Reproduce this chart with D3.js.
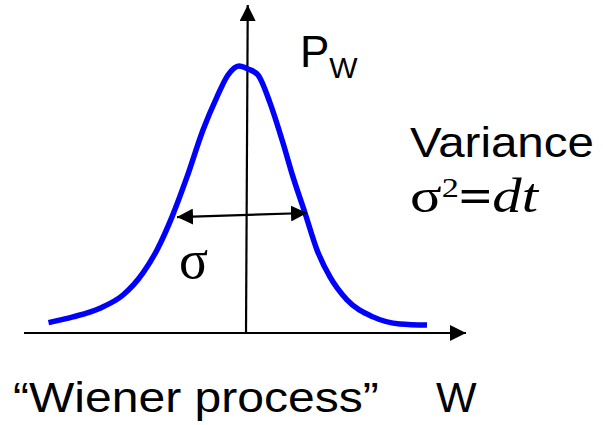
<!DOCTYPE html>
<html>
<head>
<meta charset="utf-8">
<script src="https://cdn.jsdelivr.net/npm/d3@7"></script>
<style>
  body { margin: 0; background: #fff; }
  text { fill: #000; }
</style>
</head>
<body>
<div id="chart"></div>
<script>
// curve data (W, P)
var curveW = [-3.95, -3.46, -2.92, -2.46, -2.06, -1.78, -1.48, -1.18, -0.86, -0.58, -0.36, -0.14,
  0.04, 0.24, 0.48, 0.74, 0.94, 1.18, 1.42, 1.68, 2.02, 2.54, 3.08, 3.62];
var curveP = [0.038, 0.059, 0.091, 0.139, 0.220, 0.304, 0.425, 0.571, 0.743, 0.864, 0.944, 0.977,
  0.966, 0.944, 0.842, 0.695, 0.571, 0.439, 0.304, 0.205, 0.121, 0.059, 0.033, 0.029];

// axis extents and the sigma width arrow
var wExtent = [-4.44, 4.4];
var pExtent = [0, 1.2];
var sigmaFrom = [-1.38, 0.424];
var sigmaTo = [1.22, 0.439];

var chart_width = 603;
var chart_height = 425;

var dataset = curveW.map(function(w, i) {
  return { w: w, p: curveP[i] };
});

// scales
var x_scale = d3.scaleLinear()
  .domain(wExtent)
  .range([24, 466]);

var y_scale = d3.scaleLinear()
  .domain(pExtent)
  .range([333, 5]);

var svg = d3.select('#chart')
  .append('svg')
  .attr('width', chart_width)
  .attr('height', chart_height);

// arrow marker
var defs = svg.append('defs');
defs.append('marker')
  .attr('id', 'head')
  .attr('viewBox', '0 0 16 16')
  .attr('refX', 16)
  .attr('refY', 8)
  .attr('markerWidth', 16)
  .attr('markerHeight', 16)
  .attr('markerUnits', 'userSpaceOnUse')
  .attr('orient', 'auto-start-reverse')
  .append('path')
  .attr('d', 'M0,0 L16,8 L0,16 Z')
  .attr('fill', '#000');

// axes
svg.append('line')
  .attr('x1', x_scale(wExtent[0]))
  .attr('y1', y_scale(0))
  .attr('x2', x_scale(wExtent[1]))
  .attr('y2', y_scale(0))
  .attr('stroke', '#000')
  .attr('stroke-width', 2.2)
  .attr('marker-end', 'url(#head)');

svg.append('line')
  .attr('x1', x_scale(0))
  .attr('y1', y_scale(0))
  .attr('x2', x_scale(0.035))
  .attr('y2', y_scale(pExtent[1]))
  .attr('stroke', '#000')
  .attr('stroke-width', 2.2)
  .attr('marker-end', 'url(#head)');

// curve
var line = d3.line()
  .x(function(d) { return x_scale(d.w); })
  .y(function(d) { return y_scale(d.p); })
  .curve(d3.curveMonotoneX);

svg.append('path')
  .datum(dataset)
  .attr('fill', 'none')
  .attr('stroke', '#0000ff')
  .attr('stroke-width', 5.5)
  .attr('stroke-linejoin', 'round')
  .attr('d', line);

// sigma arrow
svg.append('line')
  .attr('x1', x_scale(sigmaFrom[0]))
  .attr('y1', y_scale(sigmaFrom[1]))
  .attr('x2', x_scale(sigmaTo[0]))
  .attr('y2', y_scale(sigmaTo[1]))
  .attr('stroke', '#000')
  .attr('stroke-width', 2.2)
  .attr('marker-start', 'url(#head)')
  .attr('marker-end', 'url(#head)');

// labels
var sans = "'Liberation Sans', Arial, sans-serif";
var serif = "'Liberation Serif', 'Times New Roman', serif";

// stretch a label horizontally so it spans the given width
function fitWidth(sel, x, y, width) {
  var w = sel.node().getComputedTextLength();
  sel.attr('transform', 'translate(' + x + ',' + y + ') scale(' + (width / w) + ',1)');
}

var pw = svg.append('text')
  .attr('x', 300)
  .attr('y', 67)
  .style('font-family', sans)
  .style('font-size', '44px');
pw.append('tspan').text('P');
pw.append('tspan')
  .attr('dy', 11)
  .style('font-size', '30px')
  .text('W');

var variance = svg.append('text')
  .style('font-family', sans)
  .style('font-size', '43px')
  .text('Variance');
fitWidth(variance, 410, 157, 184);

var eq = svg.append('text')
  .style('font-family', serif)
  .style('font-size', '48px');
eq.append('tspan').text('σ');
eq.append('tspan')
  .attr('dy', -15)
  .style('font-size', '28px')
  .text('2');
eq.append('tspan')
  .attr('dy', 15)
  .style('font-weight', 'bold')
  .text('=');
eq.append('tspan')
  .style('font-style', 'italic')
  .text('dt');
fitWidth(eq, 410, 212, 128);

svg.append('text')
  .attr('x', 179)
  .attr('y', 278)
  .style('font-family', serif)
  .style('font-size', '54px')
  .text('σ');

var wiener = svg.append('text')
  .style('font-family', sans)
  .style('font-size', '43px')
  .text('“Wiener process”');
fitWidth(wiener, 13, 412, 366);

svg.append('text')
  .attr('x', 436)
  .attr('y', 412)
  .style('font-family', sans)
  .style('font-size', '43px')
  .text('W');
</script>
</body>
</html>
